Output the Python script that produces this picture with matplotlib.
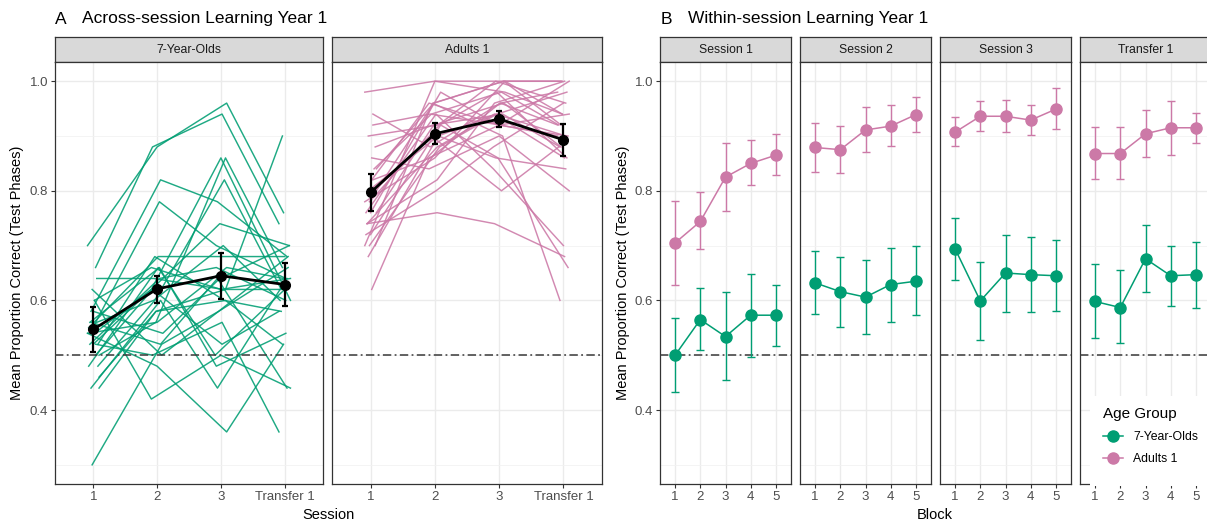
import numpy as np
import matplotlib
matplotlib.use("Agg")
import matplotlib.pyplot as plt
from matplotlib.lines import Line2D
from matplotlib.patches import Rectangle

plt.rcParams['font.family'] = ['Liberation Sans', 'DejaVu Sans']

sessions = ["1", "2", "3", "Transfer 1"]
blocks = [1, 2, 3, 4, 5]
groups = ["7-Year-Olds", "Adults 1"]
block_panels = ["Session 1", "Session 2", "Session 3", "Transfer 1"]

# proportion correct per participant: session 1, 2, 3, transfer
kids_subjects = [
    [0.70, 0.88, 0.96, 0.76], [0.66, 0.88, 0.94, 0.74], [0.58, 0.82, 0.78, 0.68],
    [0.50, 0.56, 0.86, 0.66], [0.54, 0.62, 0.86, 0.60], [0.54, 0.78, 0.70, 0.64],
    [0.48, 0.60, 0.82, 0.62], [0.52, 0.64, 0.74, 0.70], [0.55, 0.68, 0.68, 0.68],
    [0.64, 0.64, 0.62, 0.62], [0.30, 0.52, 0.58, 0.66], [0.54, 0.48, 0.36, 0.52],
    [0.52, 0.50, 0.56, 0.36], [0.44, 0.60, 0.44, 0.64], [0.44, 0.58, 0.62, 0.90],
    [0.60, 0.42, 0.50, 0.44], [0.56, 0.66, 0.48, 0.54], [0.52, 0.68, 0.60, 0.58],
    [0.58, 0.54, 0.64, 0.70], [0.48, 0.66, 0.50, 0.62], [0.56, 0.60, 0.70, 0.60],
    [0.62, 0.50, 0.58, 0.68], [0.54, 0.56, 0.66, 0.64], [0.50, 0.62, 0.52, 0.58],
    [0.56, 0.52, 0.64, 0.44], [0.46, 0.58, 0.60, 0.52], [0.60, 0.66, 0.62, 0.64],
    [0.52, 0.64, 0.66, 0.60],
]
adult_subjects = [
    [0.98, 1.00, 1.00, 1.00], [0.94, 0.88, 0.96, 0.98], [0.90, 0.92, 1.00, 0.96],
    [0.84, 0.96, 1.00, 1.00], [0.62, 0.86, 0.92, 0.94], [0.74, 0.76, 0.74, 0.68],
    [0.70, 0.96, 0.90, 0.60], [0.72, 0.92, 0.86, 0.66], [0.76, 0.94, 0.84, 0.70],
    [0.80, 0.90, 0.80, 0.88], [0.78, 0.92, 0.98, 0.86], [0.70, 1.00, 0.98, 0.94],
    [0.82, 0.86, 0.96, 0.92], [0.68, 0.90, 0.94, 0.90], [0.80, 0.96, 1.00, 0.92],
    [0.86, 0.84, 0.90, 0.80], [0.74, 0.82, 0.96, 1.00], [0.88, 0.92, 0.94, 0.88],
    [0.76, 0.98, 0.92, 0.90], [0.72, 0.80, 0.88, 0.96], [0.84, 0.94, 0.98, 0.92],
    [0.70, 0.88, 0.94, 0.98], [0.78, 0.86, 1.00, 0.94], [0.92, 0.94, 0.92, 0.90],
    [0.80, 0.90, 0.86, 0.84], [0.76, 0.92, 0.96, 0.88], [0.82, 0.96, 0.92, 1.00],
    [0.74, 0.88, 0.94, 0.86],
]

# group means with error bar limits across sessions
kids_mean = [0.547, 0.621, 0.645, 0.629]
kids_lo = [0.505, 0.595, 0.603, 0.590]
kids_hi = [0.588, 0.645, 0.687, 0.668]
adult_mean = [0.797, 0.904, 0.931, 0.893]
adult_lo = [0.764, 0.885, 0.916, 0.864]
adult_hi = [0.830, 0.923, 0.945, 0.922]

# block means within each session (rows = session panels)
kids_block_mean = [[0.500, 0.565, 0.534, 0.573, 0.573], [0.632, 0.616, 0.606, 0.629, 0.635],
                   [0.694, 0.599, 0.650, 0.647, 0.645], [0.598, 0.587, 0.676, 0.645, 0.647]]
kids_block_lo = [[0.432, 0.510, 0.455, 0.497, 0.517], [0.575, 0.552, 0.539, 0.561, 0.573],
                 [0.638, 0.528, 0.579, 0.579, 0.580], [0.531, 0.522, 0.615, 0.590, 0.587]]
kids_block_hi = [[0.567, 0.622, 0.615, 0.649, 0.629], [0.691, 0.679, 0.673, 0.696, 0.699],
                 [0.750, 0.670, 0.719, 0.715, 0.710], [0.667, 0.655, 0.737, 0.700, 0.706]]
adult_block_mean = [[0.705, 0.744, 0.825, 0.850, 0.865], [0.879, 0.875, 0.911, 0.918, 0.939],
                    [0.907, 0.936, 0.936, 0.929, 0.949], [0.868, 0.868, 0.904, 0.915, 0.915]]
adult_block_lo = [[0.629, 0.693, 0.764, 0.810, 0.828], [0.835, 0.833, 0.870, 0.881, 0.908],
                  [0.882, 0.910, 0.908, 0.902, 0.912], [0.821, 0.821, 0.861, 0.866, 0.887]]
adult_block_hi = [[0.782, 0.797, 0.888, 0.892, 0.903], [0.923, 0.918, 0.952, 0.956, 0.971],
                  [0.935, 0.963, 0.965, 0.956, 0.988], [0.916, 0.916, 0.947, 0.964, 0.942]]

GREEN = "#009E73"
PINK = "#CC79A7"
BORDER = "#333333"

W, H = 1207, 525
fig = plt.figure(figsize=(W / 100, H / 100), dpi=100)


def box(l, t, r, b):
    return [l / W, 1 - b / H, (r - l) / W, (b - t) / H]


def facet(l, r, label, show_y):
    strip = fig.add_axes(box(l, 37, r, 62))
    strip.set_facecolor("#D9D9D9")
    strip.set_xticks([])
    strip.set_yticks([])
    for s in strip.spines.values():
        s.set_color(BORDER)
        s.set_linewidth(0.9)
    strip.text(0.5, 0.48, label, ha="center", va="center", fontsize=8.8,
               color="#1A1A1A", transform=strip.transAxes)

    ax = fig.add_axes(box(l, 62, r, 484))
    ax.set_ylim(0.265, 1.035)
    ax.set_yticks([0.4, 0.6, 0.8, 1.0])
    ax.set_yticks([0.3, 0.5, 0.7, 0.9], minor=True)
    ax.set_yticklabels(["0.4", "0.6", "0.8", "1.0"])
    ax.grid(True, which="major", color="#EBEBEB", lw=1.0)
    ax.grid(True, which="minor", axis="y", color="#F2F2F2", lw=0.6)
    ax.set_axisbelow(True)
    for s in ax.spines.values():
        s.set_color(BORDER)
        s.set_linewidth(0.9)
    ax.tick_params(which="major", length=3, width=0.8, color=BORDER,
                   labelcolor="#4D4D4D", labelsize=9.5, pad=2)
    ax.tick_params(which="minor", length=0)
    if not show_y:
        ax.tick_params(axis="y", length=0, labelleft=False)
    ax.axhline(0.5, color="#383838", lw=1.1, dashes=(5.5, 2.2, 1.2, 2.2), zorder=3)
    return ax


# A: individual trajectories with group means
xs = np.arange(1, len(sessions) + 1)
panel_a = [(55, 323, groups[0], kids_subjects, GREEN, kids_mean, kids_lo, kids_hi),
           (332, 602, groups[1], adult_subjects, PINK, adult_mean, adult_lo, adult_hi)]
for k, (l, r, name, subj, col, m, lo, hi) in enumerate(panel_a):
    ax = facet(l, r, name, k == 0)
    ax.set_xlim(0.4, 4.6)
    ax.set_xticks(xs)
    ax.set_xticklabels(sessions)
    for i, row in enumerate(subj):
        jit = np.array([((i * 7 + j * 5) % 11 - 5) * 0.018 for j in range(len(row))])
        ax.plot(xs + jit, row, color=col, lw=1.05, alpha=0.88, zorder=2)
    m = np.array(m)
    ax.errorbar(xs, m, yerr=[m - np.array(lo), np.array(hi) - m], fmt="-o",
                color="black", lw=2.0, ms=7, elinewidth=1.6, capsize=2.5,
                capthick=1.6, zorder=5)

# B: block means per session
bx = np.array(blocks)
b_left = [660, 800, 940, 1080]
for k, name in enumerate(block_panels):
    ax = facet(b_left[k], b_left[k] + 131, name, k == 0)
    ax.set_xlim(0.4, 5.6)
    ax.set_xticks(bx)
    ax.set_xticklabels([str(b) for b in blocks])
    for m, lo, hi, col in [(kids_block_mean[k], kids_block_lo[k], kids_block_hi[k], GREEN),
                           (adult_block_mean[k], adult_block_lo[k], adult_block_hi[k], PINK)]:
        m = np.array(m)
        ax.errorbar(bx, m, yerr=[m - np.array(lo), np.array(hi) - m], fmt="-o",
                    color=col, lw=1.1, ms=8, elinewidth=1.0, capsize=3,
                    capthick=1.0, zorder=5)

# titles and axis labels
fig.text(55 / W, 1 - 19 / H, "A", fontsize=12.5, va="center")
fig.text(82 / W, 1 - 19 / H, "Across-session Learning Year 1", fontsize=12.5, va="center")
fig.text(661 / W, 1 - 19 / H, "B", fontsize=12.5, va="center")
fig.text(688 / W, 1 - 19 / H, "Within-session Learning Year 1", fontsize=12.5, va="center")
fig.text(328 / W, 1 - 515 / H, "Session", fontsize=10.5, ha="center", va="center")
fig.text(935 / W, 1 - 515 / H, "Block", fontsize=10.5, ha="center", va="center")
for x in (17, 623):
    fig.text(x / W, 1 - 273 / H, "Mean Proportion Correct (Test Phases)", fontsize=10.5,
             rotation=90, ha="center", va="center")

# legend sits on a white patch over the last panel
fig.add_artist(Rectangle((1090 / W, 1 - 485.5 / H), (W - 1090) / W, 90 / H,
                         transform=fig.transFigure, facecolor="white",
                         edgecolor="none", zorder=10))
handles = [Line2D([], [], color=c, marker="o", ms=8, lw=1.1) for c in (GREEN, PINK)]
leg = fig.legend(handles, groups, title="Age Group", loc="upper left",
                 bbox_to_anchor=(1094 / W, 1 - 398 / H), frameon=False,
                 fontsize=8.8, title_fontsize=11, handlelength=1.7,
                 handletextpad=0.8, labelspacing=0.85, borderpad=0.2)
leg._legend_box.align = "left"
leg.set_zorder(11)

fig.savefig("out.png", dpi=100)
